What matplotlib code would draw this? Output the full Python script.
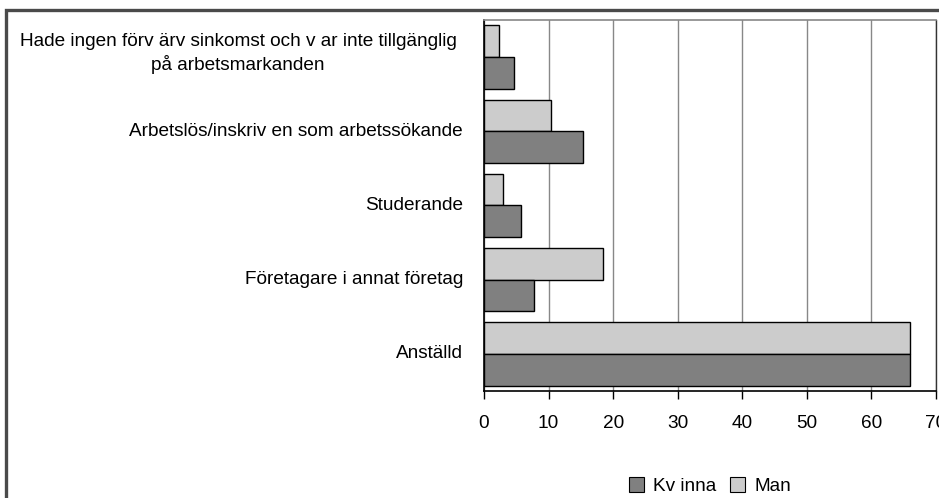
import matplotlib
matplotlib.use("Agg")
import matplotlib.pyplot as plt
import matplotlib.transforms as mtransforms
from matplotlib.patches import Rectangle, Patch
import numpy as np

plt.rcParams['font.family'] = ['Liberation Sans', 'DejaVu Sans']

categories = [
    "Anställd",
    "Företagare i annat företag",
    "Studerande",
    "Arbetslös/inskriv en som arbetssökande",
    "Hade ingen förv ärv sinkomst och v ar inte tillgänglig\npå arbetsmarkanden",
]
kvinna = [66.0, 7.7, 5.7, 15.4, 4.7]
man = [66.0, 18.4, 3.0, 10.4, 2.4]
xticks = [0, 10, 20, 30, 40, 50, 60, 70]
series_names = ["Kv inna", "Man"]

DARK = "#808080"
LIGHT = "#cccccc"
FS = 13.7

W, H = 939, 498
fig = plt.figure(figsize=(W / 100, H / 100), dpi=100)
ax = fig.add_axes([484 / W, 1 - 391 / H, 452 / W, 371 / H])

y = np.arange(len(categories))
bh = 0.428
ax.barh(y + bh / 2, man, height=bh, color=LIGHT, edgecolor="black", linewidth=1.0, zorder=3)
ax.barh(y - bh / 2, kvinna, height=bh, color=DARK, edgecolor="black", linewidth=1.0, zorder=3)

ax.set_xlim(0, 70)
ax.set_ylim(-0.5, len(categories) - 0.5)
ax.set_xticks(xticks)
ax.set_xticklabels([str(t) for t in xticks], fontsize=FS)
ax.tick_params(axis='x', direction='out', length=6, width=1, pad=11, colors='black')
ax.set_yticks([])
ax.grid(axis='x', color='#888888', linewidth=1.0, zorder=0)
ax.set_axisbelow(True)

for s in ['left', 'bottom']:
    ax.spines[s].set_color('black')
    ax.spines[s].set_linewidth(1.2)
ax.spines['top'].set_color('#888888')
ax.spines['top'].set_linewidth(1.2)
ax.spines['right'].set_color('#333333')
ax.spines['right'].set_linewidth(1.0)

# category labels
off = mtransforms.ScaledTranslation(-21 / 100, 0, fig.dpi_scale_trans)
trans = mtransforms.blended_transform_factory(ax.transAxes, ax.transData) + off
for i, lab in enumerate(categories):
    if "\n" in lab:
        tr2 = mtransforms.blended_transform_factory(fig.transFigure, ax.transData)
        ax.text(238 / W, i + 0.05, lab, transform=tr2, ha='center', va='center',
                multialignment='center', fontsize=FS, linespacing=1.35)
    else:
        ax.text(0, i, lab, transform=trans, ha='right', va='center', fontsize=FS)

# legend
handles = [Patch(facecolor=DARK, edgecolor='black', linewidth=0.8),
           Patch(facecolor=LIGHT, edgecolor='black', linewidth=0.8)]
fig.legend(handles, series_names, loc='center', bbox_to_anchor=(710 / W, 1 - 486 / H),
           ncol=2, frameon=False, fontsize=FS, handlelength=0.8, handleheight=0.8,
           handletextpad=0.5, columnspacing=0.7, borderpad=0)

# outer frame (cropped)
fig.patches.append(Rectangle((5.5 / W, -0.2), 1.2, 1.2 - 9.5 / H + 0.0,
                             transform=fig.transFigure, fill=False,
                             edgecolor='#4a4a4a', linewidth=2.4, clip_on=False))

fig.savefig("out.png", dpi=100)
